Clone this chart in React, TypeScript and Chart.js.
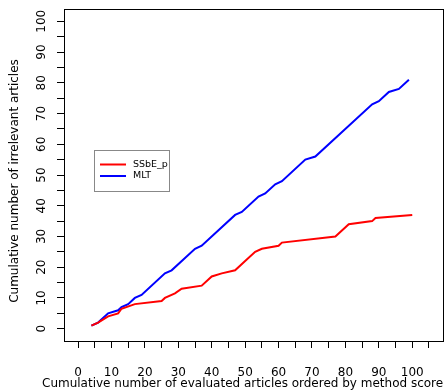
import React, { useEffect, useRef } from "react";
import { Chart, registerables } from "chart.js";

Chart.register(...registerables);

const seriesNames = ["SSbE_p", "MLT"];
const seriesColors = ["#ff0000", "#0000ff"];

const ssbeX = [4, 6, 9, 12, 13, 17, 25, 26, 29, 31, 37, 40, 43, 47, 50, 53, 55, 60, 61, 77, 81, 88, 89, 100];
const ssbeY = [1, 2, 4, 5, 6.5, 8, 9, 10, 11.5, 13, 14, 17, 18, 19, 22, 25, 26, 27, 28, 30, 34, 35, 36, 37];

const mltX = [4, 6, 9, 12, 13, 15, 17, 19, 26, 28, 35, 37, 47, 49, 54, 56, 59, 61, 68, 71, 88, 90, 93, 96, 99];
const mltY = [1, 2, 5, 6, 7, 8, 10, 11, 18, 19, 26, 27, 37, 38, 43, 44, 47, 48, 55, 56, 73, 74, 77, 78, 81];

const xTickLabels = [0, 10, 20, 30, 40, 50, 60, 70, 80, 90, 100];
const yTickLabels = [0, 10, 20, 30, 40, 50, 60, 70, 80, 90, 100];

const xTitle = "Cumulative number of evaluated articles ordered by method score";
const yTitle = "Cumulative number of irrelevant articles";

const FONT = "'DejaVu Sans', sans-serif";

export default function App() {
  const ref = useRef<HTMLCanvasElement | null>(null);

  useEffect(() => {
    if (!ref.current) return;
    const decor = {
      id: "decor",
      afterDraw(chart: any) {
        const ctx = chart.ctx;
        const ca = chart.chartArea;
        const ys = chart.scales.y;
        const xs = chart.scales.x;
        ctx.save();
        // box
        ctx.strokeStyle = "#000";
        ctx.lineWidth = 1;
        ctx.strokeRect(Math.round(ca.left) + 0.5, Math.round(ca.top) + 0.5, Math.round(ca.right - ca.left), Math.round(ca.bottom - ca.top));
        ctx.fillStyle = "#000";
        ctx.font = `12px ${FONT}`;
        ctx.textAlign = "center";
        ctx.textBaseline = "middle";
        // x tick labels
        for (const v of xTickLabels) {
          ctx.fillText(String(v), xs.getPixelForValue(v), 373);
        }
        // y tick labels rotated
        for (const v of yTickLabels) {
          const py = ys.getPixelForValue(v);
          ctx.save();
          ctx.translate(42, py);
          ctx.rotate(-Math.PI / 2);
          ctx.fillText(String(v), 0, 0);
          ctx.restore();
        }
        // y title
        ctx.save();
        ctx.translate(15, (ca.top + ca.bottom) / 2 + 6);
        ctx.rotate(-Math.PI / 2);
        ctx.fillText(yTitle, 0, 0);
        ctx.restore();
        // x title
        ctx.textAlign = "left";
        const w12 = ctx.measureText(xTitle).width;
        const fs = Math.min(12, (12 * 404) / w12);
        ctx.font = `${fs}px ${FONT}`;
        ctx.fillText(xTitle, 42, 384);
        // legend
        ctx.strokeStyle = "#888";
        ctx.lineWidth = 1;
        ctx.strokeRect(94.5, 150.5, 75, 41);
        const ly = [164.5, 176];
        ctx.font = `9.5px ${FONT}`;
        for (let i = 0; i < seriesNames.length; i++) {
          ctx.strokeStyle = seriesColors[i];
          ctx.lineWidth = 2;
          ctx.beginPath();
          ctx.moveTo(100, ly[i]);
          ctx.lineTo(126, ly[i]);
          ctx.stroke();
          ctx.fillStyle = "#000";
          ctx.fillText(seriesNames[i], 133, ly[i]);
        }
        ctx.restore();
      },
    };

    const chart = new Chart(ref.current, {
      type: "line",
      data: {
        datasets: [
          {
            label: seriesNames[0],
            data: ssbeX.map((x, i) => ({ x, y: ssbeY[i] })),
            borderColor: seriesColors[0],
            borderWidth: 2,
            pointRadius: 0,
            tension: 0,
          },
          {
            label: seriesNames[1],
            data: mltX.map((x, i) => ({ x, y: mltY[i] })),
            borderColor: seriesColors[1],
            borderWidth: 2,
            pointRadius: 0,
            tension: 0,
          },
        ],
      },
      options: {
        animation: false,
        responsive: false,
        layout: { padding: { top: 9, right: 5, left: 0, bottom: 0 } },
        plugins: { legend: { display: false }, tooltip: { enabled: false } },
        scales: {
          x: {
            type: "linear",
            min: -4.2,
            max: 109.2,
            afterFit: (s: any) => {
              s.height = 49;
            },
            border: { display: false },
            grid: { drawOnChartArea: false, drawTicks: true, tickLength: 7, color: "#000", lineWidth: 1 },
            ticks: {
              stepSize: 5,
              includeBounds: false,
              autoSkip: false,
              display: false,
            },
          },
          y: {
            type: "linear",
            min: -4,
            max: 104,
            afterFit: (s: any) => {
              s.width = 64;
            },
            border: { display: false },
            grid: { drawOnChartArea: false, drawTicks: true, tickLength: 7, color: "#000", lineWidth: 1 },
            ticks: {
              stepSize: 5,
              includeBounds: false,
              display: false,
            },
          },
        },
      },
      plugins: [decor],
    });
    return () => chart.destroy();
  }, []);

  return (
    <div style={{ position: "absolute", left: 0, top: 0, width: 448, height: 390, background: "#fff" }}>
      <canvas ref={ref} width={448} height={390} />
    </div>
  );
}
